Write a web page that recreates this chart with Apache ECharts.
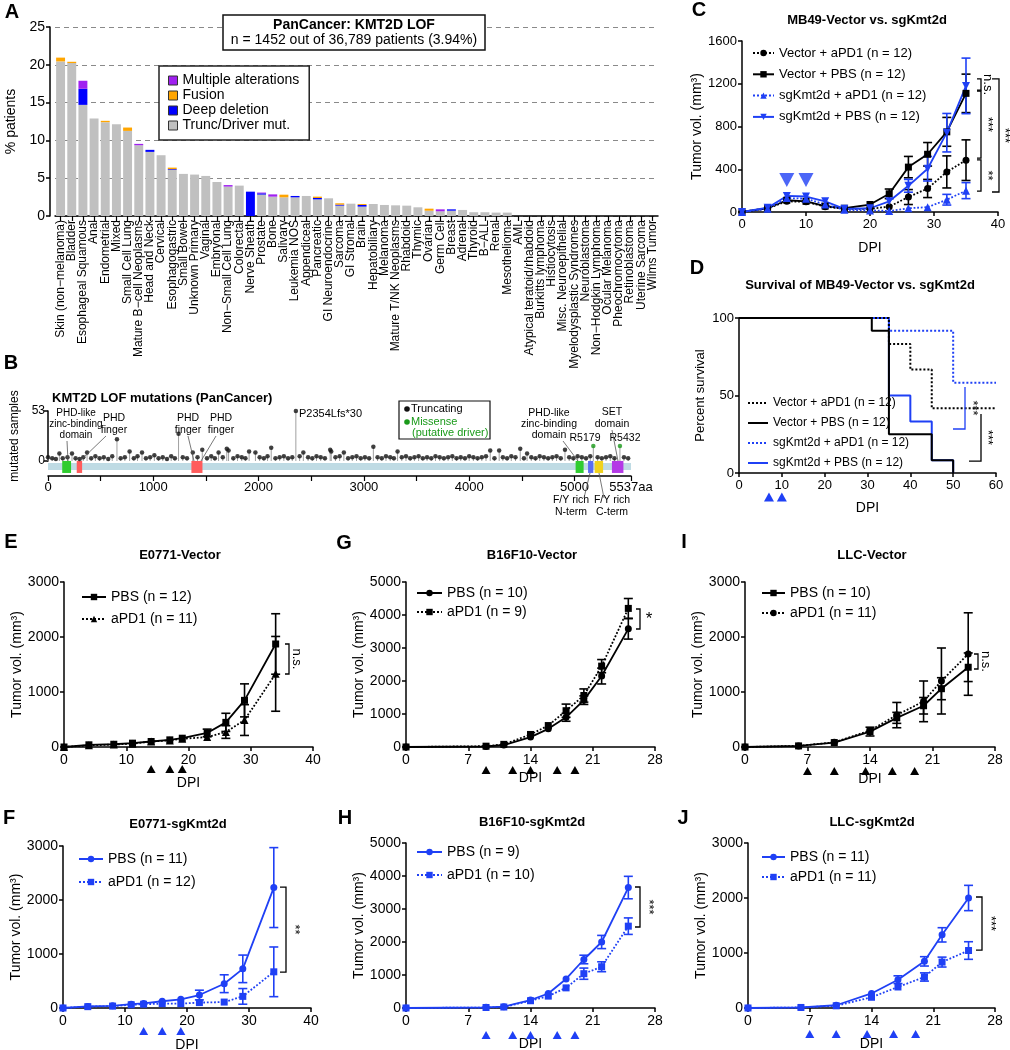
<!DOCTYPE html>
<html><head><meta charset="utf-8">
<script src="https://cdn.jsdelivr.net/npm/echarts@6/dist/echarts.min.js"></script>
<style>html,body{margin:0;padding:0;background:#fff}#c{width:1010px;height:1050px}</style>
</head><body><div id="c"></div>
<script>
// ---------------- DATA ----------------
// Panel A
const cancerTypes = ['Skin (non\u2212melanoma)','Bladder','Esophageal Squamous','Anal','Endometrial','Mixed','Small Cell Lung','Mature B\u2212cell Neoplasms','Head and Neck','Cervical','Esophagogastric','Small Bowel','Unknown Primary','Vaginal','Embryonal','Non\u2212Small Cell Lung','Colorectal','Nerve Sheath','Prostate','Bone','Salivary','Leukemia NOS','Appendiceal','Pancreatic','GI Neuroendocrine','Sarcoma','GI Stromal','Brain','Hepatobiliary','Melanoma','Mature T/NK Neoplasms','Rhabdoid','Thymic','Ovarian','Germ Cell','Breast','Adrenal','Thyroid','B\u2212ALL','Renal','Mesothelioma','AML','Atypical teratoid/rhabdoid','Burkitts lymphoma','Histiocytosis','Misc. Neuroepithelial','Myelodysplastic Syndromes','Neuroblastoma','Non\u2212Hodgkin Lymphoma','Ocular Melanoma','Pheochromocytoma','Retinoblastoma','Uterine Sarcoma','Wilms Tumor'];
const truncDriver = [20.45,20.23,14.7,12.9,12.41,12.15,11.26,9.36,8.48,8.04, 6.1,5.57,5.48,5.3,4.5,3.89,4.02,0,2.83,2.56, 2.47,2.47,2.65,2.2,2.34,1.37,1.63,1.24,1.59,1.46, 1.41,1.37,1.15,0.7,0.62,0.7,0.8,0.5,0.5,0.45, 0.45,0,0,0,0,0,0,0,0,0, 0,0,0,0];
const deepDeletion = [0,0,2.13,0,0,0,0,0,0.27,0, 0.1,0,0,0,0,0,0,3.22,0.17,0, 0,0.18,0,0.18,0,0.13,0,0.22,0,0, 0,0,0,0,0,0.18,0,0,0,0, 0,0,0,0,0,0,0,0,0,0, 0,0,0,0];
const fusion = [0.5,0.17,0,0,0.18,0,0.44,0,0,0, 0.2,0,0,0,0,0,0,0,0,0, 0.35,0,0,0.18,0,0.18,0,0.13,0,0, 0,0,0,0.27,0,0,0,0,0,0, 0,0,0,0,0,0,0,0,0,0, 0,0,0,0];
const multipleAlt = [0,0,1.06,0,0,0,0,0.18,0,0, 0,0,0,0,0,0.2,0,0,0.1,0.3, 0,0,0,0,0,0,0,0,0,0, 0,0,0,0,0.26,0,0,0,0,0, 0,0,0,0,0,0,0,0,0,0, 0,0,0,0];

// Panel B
const truncPos = [0,40,75,108,140,185,228,262,300,335,371,410,450,490,530,572,610,655,690,730,775,815,850,893,930,970,1010,1050,1090,1130,1170,1205,1240,1280,1320,1375,1420,1465,1510,1550,1585,1620,1660,1698,1715,1760,1800,1840,1875,1910,1970,2010,2050,2085,2120,2160,2200,2240,2280,2320,2354,2390,2425,2470,2510,2550,2590,2630,2680,2690,2730,2770,2810,2850,2890,2930,2970,3010,3050,3090,3130,3170,3210,3250,3285,3320,3360,3400,3440,3480,3520,3560,3600,3640,3680,3720,3760,3800,3840,3880,3920,3960,4000,4040,4080,4120,4160,4200,4240,4285,4320,4360,4400,4440,4485,4520,4550,4590,4630,4670,4710,4750,4790,4830,4870,4910,4950,4990,5030,5070,5110,5150,5220,5260,5300,5340,5380,5470,5510];
const truncCount = [4,3,2,8,3,4,8,3,2,4,9,3,5,3,4,2,5,23,3,4,10,3,5,9,3,4,6,3,4,2,5,3,29,4,3,9,4,12,3,5,3,9,4,13,11,3,5,4,3,10,9,4,3,5,14,3,4,5,3,4,53,5,9,4,3,5,4,3,12,10,4,5,9,3,4,5,3,4,3,15,4,3,5,4,3,10,4,5,3,4,5,3,4,3,5,4,3,4,5,3,4,3,5,4,3,4,5,11,3,11,4,3,5,4,13,3,8,4,3,5,4,3,4,5,3,12,4,3,5,4,3,5,4,3,4,5,3,4,3];
const missPos = [5179,5432];
const missCount = [16,16];
const domainNames = ['PHD-like zinc-binding','PHD finger','PHD finger','PHD finger','PHD-like zinc-binding','F/Y rich N-term','F/Y rich C-term','SET'];
const domainStart = [135,273,1362,1415,5011,5129,5192,5356];
const domainEnd = [219,324,1415,1467,5087,5179,5272,5465];
const proteinLength = 5537;

// Panel C
const daysC = [0,4,7,10,13,16,20,23,26,29,32,35];
const vecAPD1 = [0,35,100,95,50,30,30,50,140,220,375,485];
const vecAPD1Err = [0,0,0,0,0,0,0,0,70,85,150,190];
const vecPBS = [0,35,110,100,55,35,70,170,420,540,750,1110];
const vecPBSErr = [0,0,0,0,0,0,0,45,100,110,135,180];
const sgAPD1 = [0,30,130,125,70,20,15,10,35,45,115,200];
const sgAPD1Err = [0,0,0,0,0,0,0,0,0,0,50,75];
const sgPBS = [0,40,150,145,100,30,35,100,245,405,742,1180];
const sgPBSErr = [0,0,0,0,0,0,0,0,60,115,180,260];
const treatC = [7,10];

// Panel D (Kaplan-Meier)
const survVecAPD1Days = [0,35,40,45,60];
const survVecAPD1 = [100,83.3,66.7,41.7,41.7];
const survVecPBSDays = [0,31,35,45,50];
const survVecPBS = [100,91.7,25,8.3,0];
const survSgAPD1Days = [0,35,50,60];
const survSgAPD1 = [100,91.7,58.3,58.3];
const survSgPBSDays = [0,35,40,45,50];
const survSgPBS = [100,50,33.3,8.3,0];
const treatD = [7,10];

// Panel E
const daysE = [0,4,8,11,14,17,19,23,26,29,34];
const ePBS = [0,40,50,70,100,130,160,255,448,848,1873];
const ePBSErr = [0,0,0,0,0,0,0,70,165,300,550];
const eAPD1 = [0,30,45,60,100,120,150,180,272,490,1330];
const eAPD1Err = [0,0,0,0,0,0,0,40,115,280,680];
const treatE = [14,17,19];
// Panel F
const daysF = [0,4,8,11,13,16,19,22,26,29,34];
const fPBS = [0,30,40,70,85,125,160,240,450,725,2230];
const fPBSErr = [0,0,0,0,0,0,0,90,165,255,740];
const fAPD1 = [0,25,35,60,70,80,80,100,110,215,670];
const fAPD1Err = [0,0,0,0,0,0,0,0,0,145,460];
const treatF = [13,16,19];
// Panel G
const daysG = [0,9,11,14,16,18,20,22,25];
const gPBS = [0,15,60,300,550,900,1420,2150,3580];
const gPBSErr = [0,0,0,0,0,120,130,240,310];
const gAPD1 = [0,25,80,380,650,1100,1560,2450,4200];
const gAPD1Err = [0,0,0,60,70,200,200,200,300];
const treatG = [9,12,14,17,19];
// Panel H
const daysH = [0,9,11,14,16,18,20,22,25];
const hPBS = [0,20,40,240,440,880,1470,2000,3650];
const hPBSErr = [0,0,0,0,0,0,130,200,340];
const hAPD1 = [0,15,30,220,360,610,1040,1250,2480];
const hAPD1Err = [0,0,0,0,0,0,170,150,250];
const treatH = [9,12,14,17,19];
// Panel I
const daysI = [0,6,10,14,17,20,22,25];
const iPBS = [0,20,80,280,530,750,1060,1450];
const iPBSErr = [0,0,0,80,100,150,200,260];
const iAPD1 = [0,20,85,300,580,830,1200,1690];
const iAPD1Err = [0,0,0,60,230,370,600,750];
const treatI = [7,10,13.5,16.5,19];
// Panel J
const daysJ = [0,6,10,14,17,20,22,25];
const jPBS = [0,10,50,265,515,848,1330,2000];
const jPBSErr = [0,0,0,0,70,85,130,230];
const jAPD1 = [0,10,40,195,382,564,835,1045];
const jAPD1Err = [0,0,0,0,0,75,90,160];
const treatJ = [7,10,13.5,16.5,19];

// ---------------- STYLE / BUILD ----------------
const FONT = '"Liberation Sans", Arial, Helvetica, sans-serif';
const BLUE = '#1f40f5';
const BLACK = '#000';
const domainColor = {'PHD-like zinc-binding':'#2fcc2f','PHD finger':'#ff5c5c','F/Y rich N-term':'#5b6cf2','F/Y rich C-term':'#f0d21c','SET':'#b43ae6'};

const chart = echarts.init(document.getElementById('c'), null, {renderer:'canvas'});

const gridBoxes = [
  [55,27,603,189],    // 0 A
  [48,411,583,50],    // 1 B lollipop
  [48,460,583,16],    // 2 B protein
  [742,41,256,171],   // 3 C
  [739,318,257,155],  // 4 D
  [64,582,249,165],   // 5 E
  [63,846,248,162],   // 6 F
  [406,582,249,165],  // 7 G
  [406,843,249,165],  // 8 H
  [745,582,250,165],  // 9 I
  [748,843,247,165]   // 10 J
];
const grids = gridBoxes.map(b => ({left:b[0], top:b[1], width:b[2], height:b[3], containLabel:false, outerBoundsMode:'none'}));

const axLine = {show:true, lineStyle:{color:BLACK, width:1.5}};
const axTick = {show:true, length:4, lineStyle:{color:BLACK, width:1.5}};
const plain = v => String(v);
function vX(gi, max, interval, nameGap, fs) {
  return {type:'value', gridIndex:gi, min:0, max, interval, name:'DPI', nameLocation:'middle', nameGap,
    nameTextStyle:{fontSize:14, color:BLACK, fontFamily:FONT},
    axisLine:axLine, axisTick:axTick, splitLine:{show:false},
    axisLabel:{fontSize:fs, color:BLACK, fontFamily:FONT, margin:6, formatter:plain}};
}
function vY(gi, max, interval, name, nameGap, fs, nfs) {
  return {type:'value', gridIndex:gi, min:0, max, interval, name, nameLocation:'middle', nameGap,
    nameTextStyle:{fontSize:nfs, color:BLACK, fontFamily:FONT},
    axisLine:axLine, axisTick:axTick, splitLine:{show:false},
    axisLabel:{fontSize:fs, color:BLACK, fontFamily:FONT, margin:5, formatter:plain}};
}
const TV = 'Tumor vol. (mm\u00b3)';

const xAxis = [
  {type:'category', gridIndex:0, data:cancerTypes, axisLine:axLine,
   axisTick:{show:true, alignWithLabel:true, length:5, lineStyle:{color:BLACK, width:1.2}},
   axisLabel:{rotate:90, interval:0, fontSize:12, color:BLACK, fontFamily:FONT, margin:4}},
  {type:'value', gridIndex:1, min:0, max:proteinLength, show:false},
  {type:'value', gridIndex:2, min:0, max:proteinLength, axisLine:axLine,
   axisTick:{show:true, length:5, lineStyle:{color:BLACK, width:1.2}, customValues:[0,500,1000,1500,2000,2500,3000,3500,4000,4500,5000,5537]},
   axisLabel:{fontSize:13, color:BLACK, fontFamily:FONT, margin:5, customValues:[0,1000,2000,3000,4000,5000,5537],
     formatter: v => (v === proteinLength ? proteinLength + 'aa' : String(v))},
   splitLine:{show:false}},
  vX(3, 40, 10, 29, 13),
  vX(4, 60, 10, 28, 13),
  vX(5, 40, 10, 29, 14),
  vX(6, 40, 10, 30, 14),
  vX(7, 28, 7, 24, 14),
  vX(8, 28, 7, 29, 14),
  vX(9, 28, 7, 25, 14),
  vX(10, 28, 7, 29, 14)
];
const yAxis = [
  {type:'value', gridIndex:0, min:0, max:25, interval:5, offset:5, name:'% patients', nameLocation:'middle', nameGap:22,
   nameTextStyle:{fontSize:14, color:BLACK, fontFamily:FONT}, axisLine:axLine, axisTick:axTick,
   axisLabel:{fontSize:14, color:BLACK, fontFamily:FONT, margin:5},
   splitLine:{show:true, lineStyle:{type:[5,4], color:'#8a8a8a', width:1}}},
  {type:'value', gridIndex:1, min:0, max:53, interval:53, name:'mutated samples', nameLocation:'middle', nameGap:27,
   nameTextStyle:{fontSize:12, color:BLACK, fontFamily:FONT}, axisLine:axLine, axisTick:axTick,
   axisLabel:{fontSize:12, color:BLACK, fontFamily:FONT, margin:3}, splitLine:{show:false}},
  {type:'value', gridIndex:2, min:0, max:1, show:false},
  vY(3, 1600, 400, TV, 34, 13, 14),
  vY(4, 100, 50, 'Percent survival', 32, 13, 13),
  vY(5, 3000, 1000, TV, 35, 14, 14),
  vY(6, 3000, 1000, TV, 37, 14, 14),
  vY(7, 5000, 1000, TV, 38, 14, 14),
  vY(8, 5000, 1000, TV, 38, 14, 14),
  vY(9, 3000, 1000, TV, 35, 14, 14),
  vY(10, 3000, 1000, TV, 36, 14, 14)
];

const series = [];
// ----- A: stacked bars
function stackBar(name, data, color) {
  return {type:'bar', name, xAxisIndex:0, yAxisIndex:0, stack:'A', data, barCategoryGap:'20%',
    itemStyle:{color}, emphasis:{disabled:true}};
}
series.push(stackBar('Trunc/Driver mut.', truncDriver, '#c0c0c0'));
series.push(stackBar('Deep deletion', deepDeletion, '#0000ff'));
series.push(stackBar('Fusion', fusion, '#ffa500'));
series.push(stackBar('Multiple alterations', multipleAlt, '#a020f0'));

// ----- B: lollipops + protein
const allPos = truncPos.concat(missPos), allCnt = truncCount.concat(missCount);
series.push({type:'custom', xAxisIndex:1, yAxisIndex:1, silent:true, clip:false, z:1,
  data: allPos.map((p,i) => [p, allCnt[i]]),
  renderItem:(params, api) => {
    const a = api.coord([api.value(0), 0]), b = api.coord([api.value(0), api.value(1)]);
    return {type:'line', shape:{x1:a[0], y1:a[1], x2:b[0], y2:b[1]}, style:{stroke:'#a0a0a0', lineWidth:1}};
  }});
series.push({type:'scatter', xAxisIndex:1, yAxisIndex:1, clip:false, silent:true, z:3,
  data: truncPos.map((p,i) => [p, truncCount[i]]), symbolSize:4.5, itemStyle:{color:'#111'}});
series.push({type:'scatter', xAxisIndex:1, yAxisIndex:1, clip:false, silent:true, z:3,
  data: missPos.map((p,i) => [p, missCount[i]]), symbolSize:4.5, itemStyle:{color:'#1a9a1a'}});
series.push({type:'custom', xAxisIndex:2, yAxisIndex:2, silent:true, clip:false, z:2,
  data: [[0, proteinLength, -1]].concat(domainStart.map((s,i) => [s, domainEnd[i], i])),
  renderItem:(params, api) => {
    const idx = api.value(2);
    const isBack = idx < 0;
    const y1 = isBack ? 0.81 : 0.94, y2 = isBack ? 0.375 : 0.19;
    const p1 = api.coord([api.value(0), y1]), p2 = api.coord([api.value(1), y2]);
    const color = isBack ? '#bfdbe4' : domainColor[domainNames[idx]];
    return {type:'rect', shape:{x:p1[0], y:p1[1], width:p2[0]-p1[0], height:p2[1]-p1[1]}, style:{fill:color}};
  }});

// ----- helpers for growth curves
function lineS(name, gi, xs, ys, color, dotted, symbol, rot) {
  return {type:'line', name, xAxisIndex:gi, yAxisIndex:gi, data: xs.map((x,i) => [x, ys[i]]),
    symbol, symbolSize: symbol === 'triangle' ? 8 : 7, symbolRotate: rot || 0, showAllSymbol:true,
    lineStyle:{color, width:1.8, type: dotted ? 'dotted' : 'solid'}, itemStyle:{color}, z:4,
    emphasis:{disabled:true}};
}
function errS(gi, xs, ys, es, color) {
  return {type:'custom', xAxisIndex:gi, yAxisIndex:gi, silent:true, z:3,
    data: xs.map((x,i) => [x, ys[i], es[i]]),
    renderItem:(params, api) => {
      const x = api.value(0), m = api.value(1), e = api.value(2);
      if (!e) return {type:'group', children:[]};
      const lo = api.coord([x, m - e]), hi = api.coord([x, m + e]);
      if (Math.abs(lo[1] - hi[1]) < 7) return {type:'group', children:[]};
      const w = 4.5, st = {stroke:color, lineWidth:1.6};
      return {type:'group', children:[
        {type:'line', shape:{x1:lo[0], y1:lo[1], x2:hi[0], y2:hi[1]}, style:st},
        {type:'line', shape:{x1:lo[0]-w, y1:lo[1], x2:lo[0]+w, y2:lo[1]}, style:st},
        {type:'line', shape:{x1:hi[0]-w, y1:hi[1], x2:hi[0]+w, y2:hi[1]}, style:st}]};
    }};
}
function group(gi, pre, xs, a, aE, aName, aSym, b, bE, bName, bSym, color) {
  series.push(errS(gi, xs, a, aE, color));
  series.push(errS(gi, xs, b, bE, color));
  series.push(lineS(pre + '|' + bName, gi, xs, b, color, true, bSym));
  series.push(lineS(pre + '|' + aName, gi, xs, a, color, false, aSym));
}

// ----- C
series.push(errS(3, daysC, vecAPD1, vecAPD1Err, BLACK));
series.push(errS(3, daysC, vecPBS, vecPBSErr, BLACK));
series.push(errS(3, daysC, sgAPD1, sgAPD1Err, BLUE));
series.push(errS(3, daysC, sgPBS, sgPBSErr, BLUE));
series.push(lineS('C|Vector + aPD1 (n = 12)', 3, daysC, vecAPD1, BLACK, true, 'circle'));
series.push(lineS('C|Vector + PBS (n = 12)', 3, daysC, vecPBS, BLACK, false, 'rect'));
series.push(lineS('C|sgKmt2d + aPD1 (n = 12)', 3, daysC, sgAPD1, BLUE, true, 'triangle'));
series.push(lineS('C|sgKmt2d + PBS (n = 12)', 3, daysC, sgPBS, BLUE, false, 'triangle', 180));
series.push({type:'scatter', xAxisIndex:3, yAxisIndex:3, silent:true, z:6, data: treatC.map(d => [d, 300]),
  symbol:'triangle', symbolRotate:180, symbolSize:[15,14], itemStyle:{color:BLUE}});

// ----- D
function km(name, xs, ys, color, dotted, z) {
  return {type:'line', name, xAxisIndex:4, yAxisIndex:4, step:'end', data: xs.map((x,i) => [x, ys[i]]),
    symbol:'none', lineStyle:{color, width:2, type: dotted ? 'dotted' : 'solid'}, itemStyle:{color}, z, emphasis:{disabled:true}};
}
series.push(km('D|sgKmt2d + PBS (n = 12)', survSgPBSDays, survSgPBS, BLUE, false, 2));
series.push(km('D|sgKmt2d + aPD1 (n = 12)', survSgAPD1Days, survSgAPD1, BLUE, true, 3));
series.push(km('D|Vector + aPD1 (n = 12)', survVecAPD1Days, survVecAPD1, BLACK, true, 4));
series.push(km('D|Vector + PBS (n = 12)', survVecPBSDays, survVecPBS, BLACK, false, 5));

// ----- E..J
group(5, 'E', daysE, ePBS, ePBSErr, 'PBS (n = 12)', 'rect', eAPD1, eAPD1Err, 'aPD1 (n = 11)', 'triangle', BLACK);
group(6, 'F', daysF, fPBS, fPBSErr, 'PBS (n = 11)', 'circle', fAPD1, fAPD1Err, 'aPD1 (n = 12)', 'rect', BLUE);
group(7, 'G', daysG, gPBS, gPBSErr, 'PBS (n = 10)', 'circle', gAPD1, gAPD1Err, 'aPD1 (n = 9)', 'rect', BLACK);
group(8, 'H', daysH, hPBS, hPBSErr, 'PBS (n = 9)', 'circle', hAPD1, hAPD1Err, 'aPD1 (n = 10)', 'rect', BLUE);
group(9, 'I', daysI, iPBS, iPBSErr, 'PBS (n = 10)', 'rect', iAPD1, iAPD1Err, 'aPD1 (n = 11)', 'circle', BLACK);
group(10, 'J', daysJ, jPBS, jPBSErr, 'PBS (n = 11)', 'circle', jAPD1, jAPD1Err, 'aPD1 (n = 11)', 'rect', BLUE);

// ----- legends
function lg(data, left, top, itemWidth, fs, gap, extra) {
  return Object.assign({data, orient:'vertical', left, top, itemWidth, itemHeight:8, itemGap:gap, padding:0, selectedMode:false,
    formatter: n => n.split('|').pop(),
    textStyle:{fontSize:fs, lineHeight:fs+1, color:BLACK, fontFamily:FONT}}, extra || {});
}
const legends = [
  {data:['Multiple alterations','Fusion','Deep deletion','Trunc/Driver mut.'], orient:'vertical', left:159, top:66,
   itemWidth:9, itemHeight:9, itemGap:0, icon:'rect', padding:[7,10,7,9], selectedMode:false,
   backgroundColor:'#fff', borderColor:'#222', borderWidth:1.5,
   itemStyle:{borderColor:'#333', borderWidth:1},
   textStyle:{fontSize:14, lineHeight:15, color:BLACK, fontFamily:FONT}},
  lg(['C|Vector + aPD1 (n = 12)','C|Vector + PBS (n = 12)','C|sgKmt2d + aPD1 (n = 12)','C|sgKmt2d + PBS (n = 12)'], 752, 46, 21, 13, 7.3),
  lg(['D|Vector + aPD1 (n = 12)','D|Vector + PBS (n = 12)','D|sgKmt2d + aPD1 (n = 12)','D|sgKmt2d + PBS (n = 12)'], 747, 396.5, 20, 12, 7, {itemStyle:{opacity:0}}),
  lg(['E|PBS (n = 12)','E|aPD1 (n = 11)'], 81, 589.5, 24, 14, 7),
  lg(['F|PBS (n = 11)','F|aPD1 (n = 12)'], 78, 851.5, 24, 14, 8),
  lg(['G|PBS (n = 10)','G|aPD1 (n = 9)'], 416, 585.5, 25, 14, 4),
  lg(['H|PBS (n = 9)','H|aPD1 (n = 10)'], 416, 844.5, 25, 14, 8),
  lg(['I|PBS (n = 10)','I|aPD1 (n = 11)'], 761, 585.5, 23, 14, 5),
  lg(['J|PBS (n = 11)','J|aPD1 (n = 11)'], 761, 849.5, 23, 14, 5)
];

chart.setOption({animation:false, backgroundColor:'#fff', textStyle:{fontFamily:FONT, color:BLACK},
  grid:grids, xAxis, yAxis, legend:legends, series});

// ---------------- ANNOTATIONS ----------------
const g = [];
function txt(x, y, text, o) {
  o = o || {};
  const al = o.align || 'center', va = o.va || 'middle';
  g.push({type:'text', x, y, rotation:o.rot || 0, z:100, silent:true,
    style:{text, fill:o.color || BLACK, fontSize:o.size || 12, fontWeight:o.bold ? 'bold' : 'normal', fontFamily:FONT,
      align:al, verticalAlign:va, textAlign:al, textVerticalAlign:va, lineHeight:o.lh}});
}
function poly(points, color, w) {
  g.push({type:'polyline', z:100, silent:true, shape:{points}, style:{stroke:color, lineWidth:w || 1.3, fill:null}});
}
function P(gi, x, y) { return chart.convertToPixel({gridIndex:gi}, [x, y]); }
function treat(gi, days, color, below, w, h) {
  days.forEach(d => {
    const p = P(gi, d, 0), cy = p[1] + below;
    g.push({type:'polygon', z:100, silent:true, shape:{points:[[p[0], cy-h/2],[p[0]-w/2, cy+h/2],[p[0]+w/2, cy+h/2]]}, style:{fill:color}});
  });
}
function bracket(gi, x, v1, v2, stub, color, label, lx, rot, mode, fs) {
  const y1 = P(gi, 0, v1)[1], y2 = P(gi, 0, v2)[1];
  const pts = [];
  if (mode !== 'bottom') pts.push([x - stub, y1]);
  pts.push([x, y1], [x, y2]);
  if (mode !== 'top') pts.push([x - stub, y2]);
  poly(pts, color, 1.3);
  txt(lx, (y1 + y2) / 2, label, {rot: rot ? -Math.PI/2 : 0, size: fs || 13});
}

// panel letters
[['A',12,12],['B',11,363],['C',699,10],['D',697,268],['E',11,542],['G',344,543],['I',684,542],['F',9,818],['H',345,818],['J',683,818]]
  .forEach(l => txt(l[1], l[2], l[0], {size:20, bold:true}));

// A title box
g.push({type:'rect', z:99, silent:true, shape:{x:223, y:15, width:262, height:35}, style:{fill:'#fff', stroke:'#111', lineWidth:1.5}});
txt(354, 25, 'PanCancer: KMT2D LOF', {size:14, bold:true});
txt(354, 40, 'n = 1452 out of 36,789 patients (3.94%)', {size:14});

// B
txt(52, 398, 'KMT2D LOF mutations (PanCancer)', {size:13, bold:true, align:'left'});
txt(76, 424, 'PHD-like\nzinc-binding\ndomain', {size:10, lh:11});
txt(114, 424, 'PHD\nfinger', {size:10.5, lh:12});
txt(188, 424, 'PHD\nfinger', {size:10.5, lh:12});
txt(221, 424, 'PHD\nfinger', {size:10.5, lh:12});
txt(299, 414, 'P2354Lfs*30', {size:11, align:'left'});
txt(549, 424, 'PHD-like\nzinc-binding\ndomain', {size:10.5, lh:11});
txt(612, 418, 'SET\ndomain', {size:10.5, lh:12});
txt(585, 438, 'R5179', {size:10.5});
txt(625, 438, 'R5432', {size:10.5});
txt(571, 506, 'F/Y rich\nN-term', {size:10.5, lh:12});
txt(612, 506, 'F/Y rich\nC-term', {size:10.5, lh:12});
const LC = '#555';
poly([[67,441],[68,461]], LC, 0.8);
poly([[106,436],[80,461]], LC, 0.8);
poly([[188,436],[194,461]], LC, 0.8);
poly([[216,436],[201,461]], LC, 0.8);
poly([[563,441],[578,461]], LC, 0.8);
poly([[612,430],[618,461]], LC, 0.8);
poly([[584,498],[590,473]], LC, 0.8);
poly([[604,498],[599,473]], LC, 0.8);
g.push({type:'rect', z:99, silent:true, shape:{x:399, y:401, width:91, height:38}, style:{fill:'#fff', stroke:'#111', lineWidth:1.2}});
g.push({type:'circle', z:100, silent:true, shape:{cx:407, cy:409, r:2.8}, style:{fill:'#111'}});
g.push({type:'circle', z:100, silent:true, shape:{cx:407, cy:422, r:2.8}, style:{fill:'#1a9a1a'}});
txt(411, 409, 'Truncating', {size:11, align:'left'});
txt(411, 422, 'Missense', {size:11, align:'left', color:'#1a9a1a'});
txt(412, 433, '(putative driver)', {size:11, align:'left', color:'#1a9a1a'});

// titles
txt(867, 20, 'MB49-Vector vs. sgKmt2d', {size:13, bold:true});
txt(860, 285, 'Survival of MB49-Vector vs. sgKmt2d', {size:13, bold:true});
txt(180, 555, 'E0771-Vector', {size:13, bold:true});
txt(532, 555, 'B16F10-Vector', {size:13, bold:true});
txt(872, 555, 'LLC-Vector', {size:13, bold:true});
txt(178, 824, 'E0771-sgKmt2d', {size:13, bold:true});
txt(532, 822, 'B16F10-sgKmt2d', {size:13, bold:true});
txt(872, 822, 'LLC-sgKmt2d', {size:13, bold:true});

// significance brackets
bracket(3, 981, 1245, 1140, 4, BLACK, 'n.s.', 988, true);
bracket(3, 981, 1132, 505, 4, BLACK, '***', 988, true);
bracket(3, 981, 487, 196, 4, BLACK, '**', 988, true);
bracket(3, 999, 1245, 187, 7, BLACK, '***', 1005, true);
bracket(4, 965, 55.5, 28.4, 12, BLUE, '***', 973, true, 'bottom');
bracket(4, 981, 38, 7.7, 12, BLACK, '***', 988, true, 'bottom');
bracket(5, 289, 1873, 1327, 4, BLACK, 'n.s.', 297, true);
bracket(6, 286, 2238, 666, 6, BLACK, '**', 295, true);
bracket(7, 640, 4182, 3576, 4, BLACK, '*', 649, false, null, 17);
bracket(8, 640, 3667, 2455, 5, BLACK, '***', 649, true);
bracket(9, 978, 1691, 1418, 4, BLACK, 'n.s.', 986, true);
bracket(10, 982, 2018, 1054, 6, BLACK, '***', 991, true);

// treatment triangles
treat(4, treatD, BLUE, 24, 10, 9);
treat(5, treatE, BLACK, 22, 9, 8);
treat(6, treatF, BLUE, 23, 9, 8);
treat(7, treatG, BLACK, 23, 9, 8);
treat(8, treatH, BLUE, 27, 9, 8);
treat(9, treatI, BLACK, 24, 9, 8);
treat(10, treatJ, BLUE, 26, 9, 8);

chart.setOption({graphic:{elements:g}});
</script></body></html>
